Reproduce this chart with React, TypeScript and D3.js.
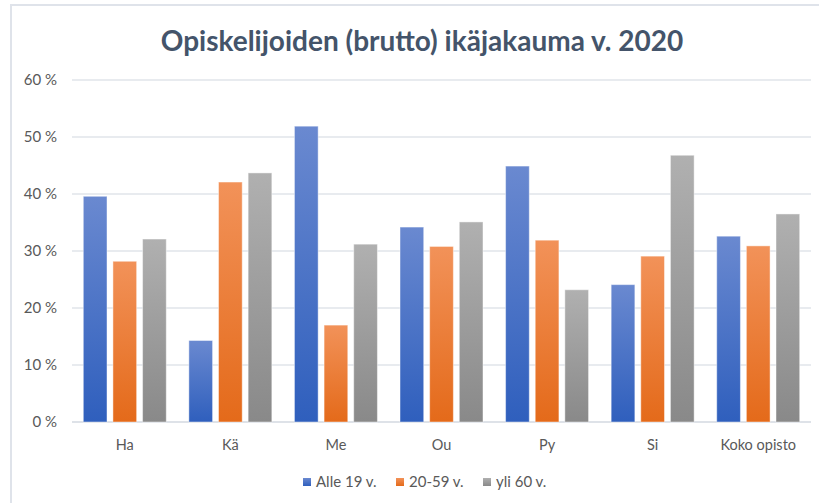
import React from 'react';
import * as d3 from 'd3';

const categories = ['Ha', 'Kä', 'Me', 'Ou', 'Py', 'Si', 'Koko opisto'];
const seriesNames = ['Alle 19 v.', '20-59 v.', 'yli 60 v.'];
const alle19 = [39.6, 14.3, 51.9, 34.2, 44.9, 24.1, 32.6];
const mid2059 = [28.2, 42.1, 17.0, 30.8, 31.9, 29.1, 30.9];
const yli60 = [32.1, 43.7, 31.2, 35.1, 23.2, 46.8, 36.5];
const yTicks = [0, 10, 20, 30, 40, 50, 60];

const seriesValues = [alle19, mid2059, yli60];
const gradients = [
  { id: 'g-blue', top: '#6a89d0', bottom: '#2f5fbd' },
  { id: 'g-orange', top: '#f29259', bottom: '#e46a1a' },
  { id: 'g-gray', top: '#b0b0b0', bottom: '#898989' },
];

const W = 819;
const H = 503;
const margin = { top: 80, right: 8, bottom: 81, left: 72 };
const font = 'Lato, "Open Sans", sans-serif';

export default function App() {
  const x = d3.scaleBand<string>()
    .domain(categories)
    .range([margin.left, W - margin.right])
    .paddingInner(0.214)
    .paddingOuter(0.107);
  const xSub = d3.scaleBand<string>()
    .domain(seriesNames)
    .range([0, x.bandwidth()])
    .paddingInner(0.2);
  const y = d3.scaleLinear().domain([0, 60]).range([H - margin.bottom, margin.top]);

  // legend positions
  const legendX = [303, 396, 483];

  return (
    <svg width={W} height={H} style={{ position: 'absolute', left: 0, top: 0, background: '#fff' }}>
      <defs>
        {gradients.map(g => (
          <linearGradient key={g.id} id={g.id} x1="0" y1="0" x2="0" y2="1">
            <stop offset="0%" stopColor={g.top} />
            <stop offset="100%" stopColor={g.bottom} />
          </linearGradient>
        ))}
      </defs>

      {/* chart border (only top/left visible) */}
      <path d={`M11,${H} L11,5 L${W},5`} fill="none" stroke="#dfe3ea" strokeWidth={2} />

      <text x={422} y={51} textAnchor="middle" fontFamily={font} fontWeight={700}
        fontSize={28} fill="#44546a">
        Opiskelijoiden (brutto) ikäjakauma v. 2020
      </text>

      {/* gridlines + y labels */}
      {yTicks.map(t => (
        <g key={t}>
          <line x1={margin.left} x2={W - margin.right} y1={y(t)} y2={y(t)}
            stroke={t === 0 ? '#d3d8e0' : '#e1e4ea'} strokeWidth={1.5} />
          <text x={57} y={y(t)} dy="0.35em" textAnchor="end" fontFamily={font}
            fontSize={15} fill="#595959">{`${t} %`}</text>
        </g>
      ))}

      {/* bars */}
      {categories.map((c, i) => (
        <g key={c} transform={`translate(${x(c)},0)`}>
          {seriesNames.map((s, j) => {
            const v = seriesValues[j][i];
            return (
              <rect key={s} x={xSub(s)} y={y(v)} width={xSub.bandwidth()}
                height={y(0) - y(v)} fill={`url(#${gradients[j].id})`}
                stroke="#ffffff" strokeOpacity={0.45} strokeWidth={1} />
            );
          })}
          <text x={x.bandwidth() / 2} y={445} dy="0.35em" textAnchor="middle"
            fontFamily={font} fontSize={14.5} fill="#595959">{c}</text>
        </g>
      ))}

      {/* legend */}
      {seriesNames.map((name, j) => (
        <g key={name} transform={`translate(${legendX[j]},478)`}>
          <rect width={8} height={8} fill={`url(#${gradients[j].id})`} />
          <text x={13} y={4} dy="0.35em" fontFamily={font} fontSize={15} fill="#595959">{name}</text>
        </g>
      ))}
    </svg>
  );
}
